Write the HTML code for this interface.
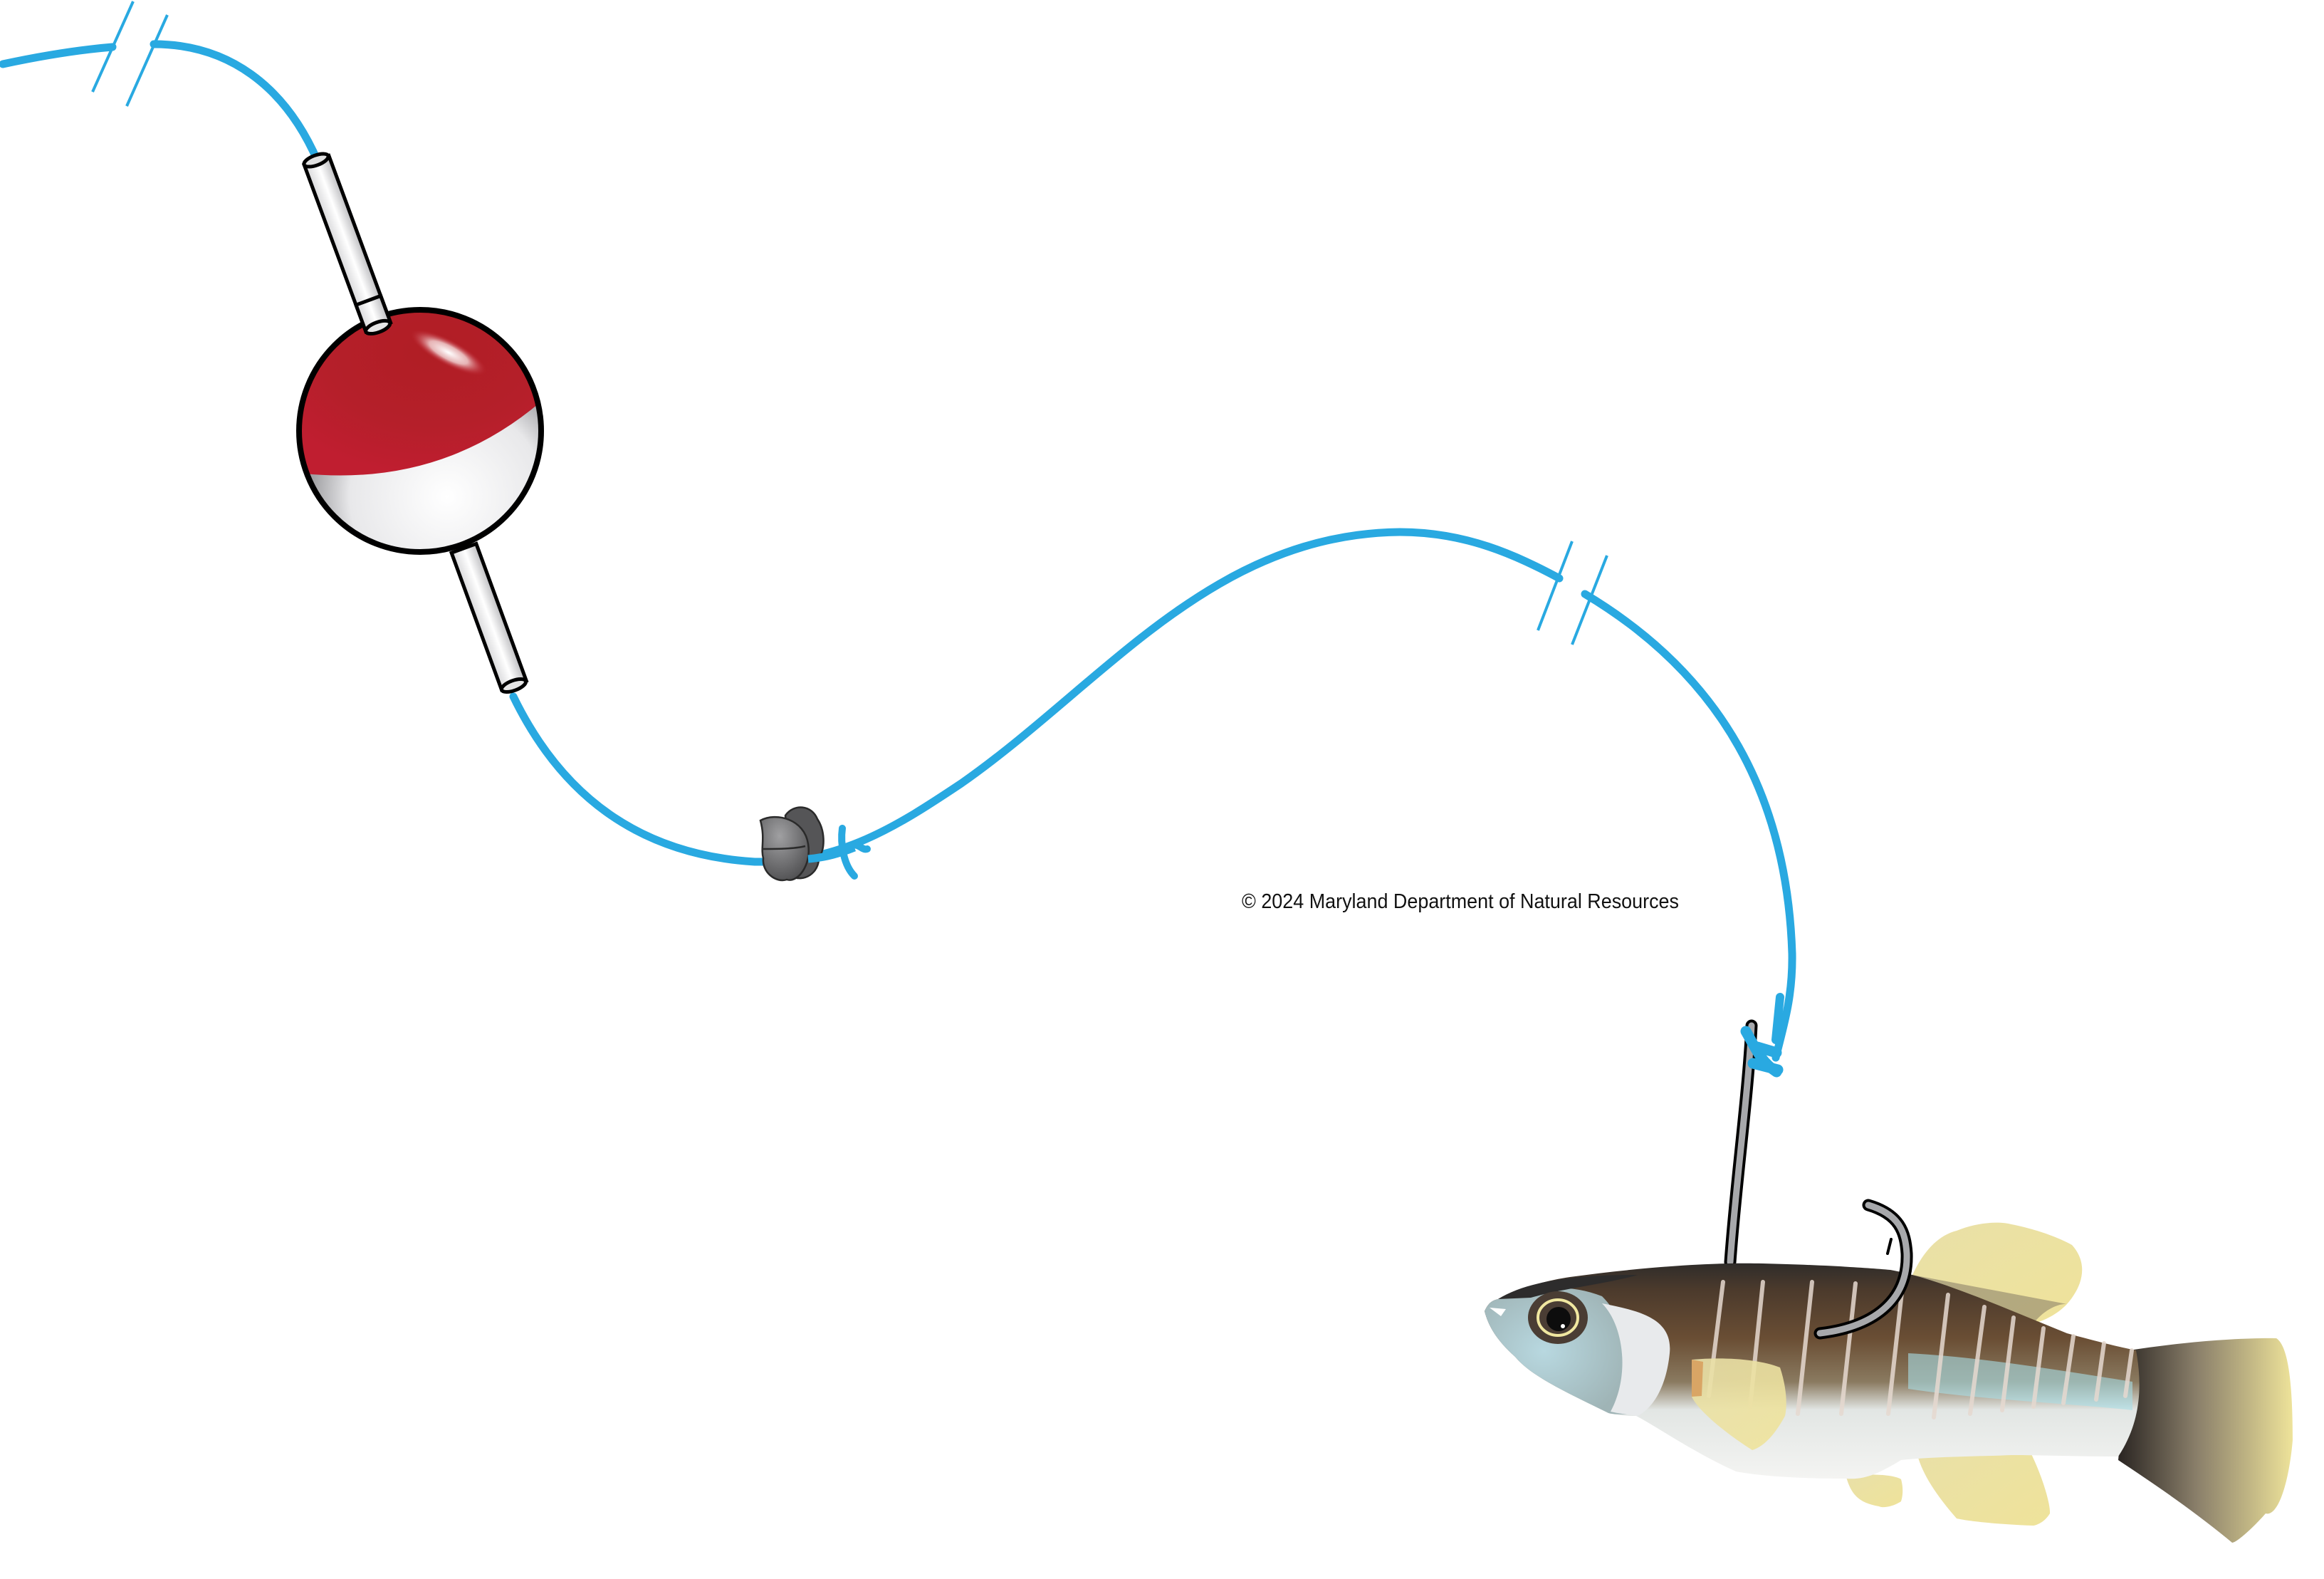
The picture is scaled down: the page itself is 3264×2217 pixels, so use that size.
<!DOCTYPE html>
<html><head><meta charset="utf-8"><style>
html,body{margin:0;padding:0;background:#fff}
svg{display:block}
</style></head><body>
<svg width="3264" height="2217" viewBox="0 0 3264 2217" xmlns="http://www.w3.org/2000/svg">
<defs>
<radialGradient id="red" cx="0.55" cy="0.3" r="0.7">
<stop offset="0" stop-color="#b01e24"/><stop offset="0.6" stop-color="#b51f2a"/><stop offset="1" stop-color="#c01e30"/>
</radialGradient>
<radialGradient id="wht" cx="0.6" cy="0.75" r="0.6">
<stop offset="0" stop-color="#ffffff"/><stop offset="0.6" stop-color="#e8e8ea"/><stop offset="1" stop-color="#6e6e72"/>
</radialGradient>
<linearGradient id="tube" x1="0" y1="0" x2="1" y2="0">
<stop offset="0" stop-color="#d8d8da"/><stop offset="0.5" stop-color="#ffffff"/><stop offset="1" stop-color="#bdbdc0"/>
</linearGradient>
<radialGradient id="hl" cx="0.5" cy="0.5" r="0.5">
<stop offset="0" stop-color="#ffffff"/><stop offset="0.5" stop-color="#f4dada" stop-opacity="0.8"/><stop offset="1" stop-color="#c02030" stop-opacity="0"/>
</radialGradient>
<radialGradient id="sink" cx="0.4" cy="0.3" r="0.8">
<stop offset="0" stop-color="#a0a0a2"/><stop offset="1" stop-color="#4a4a4c"/>
</radialGradient>
<linearGradient id="body" x1="0" y1="0" x2="0" y2="1">
<stop offset="0" stop-color="#2f2c2a"/><stop offset="0.12" stop-color="#4b3a2c"/><stop offset="0.35" stop-color="#6a4e34"/><stop offset="0.55" stop-color="#8a7a60"/><stop offset="0.68" stop-color="#e2e6e4"/><stop offset="1" stop-color="#f4f4f2"/>
</linearGradient>
<linearGradient id="fin" x1="0" y1="0" x2="1" y2="1">
<stop offset="0" stop-color="#e9e0a8"/><stop offset="1" stop-color="#efe39a"/>
</linearGradient>
<linearGradient id="tail" x1="0" y1="0" x2="1" y2="0">
<stop offset="0" stop-color="#2a2522"/><stop offset="0.45" stop-color="#8a7f6a"/><stop offset="1" stop-color="#eee39a"/>
</linearGradient>
<radialGradient id="head" cx="0.4" cy="0.5" r="0.6">
<stop offset="0" stop-color="#b8d8e0"/><stop offset="1" stop-color="#9fb4b6"/>
</radialGradient>
<clipPath id="ball"><circle cx="590" cy="605" r="170"/></clipPath>
</defs>

<g fill="none" stroke="#29a9e1" stroke-width="11" stroke-linecap="round">
<path d="M4,90 C60,78 110,70 158,66"/>
<path d="M216,62 C320,62 400,120 446,226"/>
<path d="M721,978 C790,1120 900,1200 1060,1210 C1180,1212 1260,1160 1350,1100 C1550,960 1700,750 1966,747 C2060,747 2130,780 2190,812"/>
<path d="M2226,834 C2420,950 2510,1120 2517,1339 C2518,1400 2505,1440 2494,1485"/>
</g>
<g stroke="#29a9e1" stroke-width="4">
<line x1="130" y1="129" x2="187" y2="2"/>
<line x1="178" y1="149" x2="235" y2="21"/>
<line x1="2160" y1="885" x2="2208" y2="760"/>
<line x1="2208" y1="905" x2="2257" y2="780"/>
</g>

<g stroke="#000" stroke-width="5">
<g transform="translate(444,225) rotate(-20.3)">
<rect x="-18" y="0" width="37" height="250" fill="url(#tube)"/>
<ellipse cx="0" cy="0" rx="18" ry="7" fill="#e0e0e0"/>
</g>
<g transform="translate(651,770) rotate(-20.1)">
<rect x="-18" y="0" width="37" height="205" fill="url(#tube)"/>
<ellipse cx="0" cy="205" rx="18" ry="7" fill="#e6e6e6"/>
</g>
</g>

<g clip-path="url(#ball)">
<rect x="400" y="420" width="380" height="370" fill="url(#wht)"/>
<path d="M410,663 Q620,690 770,555 L770,420 L410,420 Z" fill="url(#red)"/>
<ellipse cx="630" cy="495" rx="60" ry="18" transform="rotate(28 630 495)" fill="url(#hl)"/>
</g>
<circle cx="590" cy="605" r="170" fill="none" stroke="#000" stroke-width="8"/>
<g transform="translate(444,225) rotate(-20.3)"><rect x="-18" y="210" width="37" height="40" fill="url(#tube)" stroke="#000" stroke-width="5"/><ellipse cx="0" cy="250" rx="18" ry="7" fill="#e6e6e6" stroke="#000" stroke-width="5"/></g>

<g stroke="#2a2a2a" stroke-width="2.5">
<path d="M1103,1145 C1115,1128 1140,1130 1148,1150 C1158,1165 1160,1190 1150,1205 C1150,1225 1130,1240 1110,1230 Z" fill="#555557"/>
<path d="M1068,1152 C1090,1140 1130,1150 1135,1185 C1140,1215 1120,1240 1105,1235 C1090,1240 1070,1225 1072,1205 C1068,1190 1075,1178 1068,1152 Z" fill="url(#sink)"/>
<path d="M1072,1192 C1090,1192 1115,1192 1131,1188" fill="none"/>
</g>
<path d="M1135,1206 C1160,1204 1180,1198 1200,1190" fill="none" stroke="#29a9e1" stroke-width="11"/>
<g fill="none" stroke="#29a9e1" stroke-width="10" stroke-linecap="round">
<path d="M1183,1163 C1180,1185 1185,1215 1200,1230"/>
<path d="M1192,1190 C1205,1180 1210,1195 1218,1192"/>
</g>

<path d="M2430,1772 C2438,1660 2455,1540 2460,1440" fill="none" stroke="#000" stroke-width="17" stroke-linecap="round"/>
<path d="M2430,1772 C2438,1660 2455,1540 2460,1440" fill="none" stroke="#a7a8ab" stroke-width="9" stroke-linecap="round"/>
<g fill="none" stroke="#29a9e1" stroke-linecap="round">
<path d="M2500,1400 L2494,1460" stroke-width="12"/>
<path d="M2452,1448 C2465,1470 2472,1490 2495,1505" stroke-width="15"/>
<path d="M2462,1493 L2497,1502" stroke-width="15"/>
<path d="M2468,1470 L2495,1478" stroke-width="15"/>
</g>

<g>
<path d="M2686,1790 C2700,1760 2720,1735 2748,1728 C2780,1715 2810,1715 2825,1719 C2880,1730 2910,1748 2910,1748 C2930,1770 2930,1800 2903,1831 C2890,1845 2870,1855 2856,1858 Z" fill="url(#fin)"/>
<path d="M2686,1790 C2710,1800 2760,1830 2856,1858 C2870,1840 2890,1830 2903,1831" fill="#7a6f60" opacity="0.5"/>
<path d="M2990,1896 C3060,1885 3140,1878 3197,1879 C3215,1890 3220,1950 3220,2022 C3215,2080 3200,2130 3182,2125 C3160,2150 3140,2166 3135,2166 C3080,2120 3020,2080 2975,2050 Z" fill="url(#tail)"/>
<path d="M2693,2043 C2720,2030 2800,2020 2841,2019 C2865,2060 2880,2110 2879,2125 C2870,2140 2856,2142 2856,2142 C2800,2140 2760,2135 2748,2132 C2720,2100 2700,2070 2693,2043 Z" fill="url(#fin)"/>
<path d="M2593,2074 C2620,2068 2660,2070 2670,2077 C2675,2095 2670,2108 2670,2108 C2660,2115 2645,2118 2639,2115 C2610,2110 2600,2098 2593,2074 Z" fill="url(#fin)"/>
<path d="M2085,1841 C2090,1830 2095,1826 2104,1824 C2130,1810 2170,1798 2205,1793 C2300,1780 2400,1772 2476,1774 C2560,1776 2620,1780 2655,1783 C2720,1795 2800,1830 2903,1872 C2950,1885 2980,1892 3000,1896 C3010,1950 3005,2000 2975,2045 C2920,2045 2860,2043 2825,2043 C2780,2045 2720,2045 2670,2050 C2640,2068 2620,2078 2593,2076 C2520,2076 2470,2072 2438,2066 C2380,2040 2330,2005 2298,1988 C2280,1988 2265,1986 2259,1984 C2200,1955 2150,1932 2128,1905 C2100,1880 2090,1860 2085,1841 Z" fill="url(#body)"/>
<path d="M2680,1900 C2780,1905 2900,1925 2995,1940 L2995,1980 C2900,1970 2780,1965 2680,1950 Z" fill="#a9dde6" opacity="0.6"/>
<path d="M2085,1841 C2090,1830 2095,1826 2104,1824 C2140,1808 2200,1800 2250,1820 C2290,1860 2300,1930 2290,1986 C2270,1986 2262,1985 2259,1984 C2200,1955 2150,1932 2128,1905 C2100,1880 2090,1860 2085,1841 Z" fill="url(#head)"/>
<path d="M2250,1830 C2300,1840 2350,1850 2345,1900 C2340,1950 2320,1978 2300,1988 C2285,1986 2270,1984 2262,1982 C2290,1930 2280,1860 2250,1830 Z" fill="#e8eaec"/>
<path d="M2104,1824 C2150,1795 2230,1790 2300,1790 C2260,1802 2200,1808 2150,1822 Z" fill="#2d2c2c"/>
<path d="M2092,1836 L2115,1838 L2108,1848 Z" fill="#ffffff"/>
<g stroke="#e6d9d0" stroke-width="6" stroke-linecap="round" opacity="0.85">
<line x1="2420" y1="1800" x2="2400" y2="1960"/>
<line x1="2476" y1="1800" x2="2458" y2="1975"/>
<line x1="2545" y1="1800" x2="2525" y2="1985"/>
<line x1="2606" y1="1802" x2="2586" y2="1985"/>
<line x1="2672" y1="1806" x2="2652" y2="1985"/>
<line x1="2736" y1="1818" x2="2716" y2="1990"/>
<line x1="2787" y1="1835" x2="2767" y2="1985"/>
<line x1="2828" y1="1850" x2="2812" y2="1980"/>
<line x1="2870" y1="1865" x2="2856" y2="1975"/>
<line x1="2912" y1="1876" x2="2898" y2="1970"/>
<line x1="2955" y1="1886" x2="2944" y2="1965"/>
<line x1="2994" y1="1896" x2="2985" y2="1960"/>
</g>
<path d="M2376,1909 C2420,1905 2470,1908 2500,1920 C2510,1950 2510,1975 2507,1988 C2495,2010 2480,2030 2461,2036 C2420,2010 2385,1980 2376,1961 Z" fill="url(#fin)" opacity="0.9"/>
<path d="M2376,1909 L2392,1912 L2390,1960 L2376,1961 Z" fill="#d9a565"/>
<ellipse cx="2188" cy="1850" rx="42" ry="37" fill="#4a3d34"/>
<ellipse cx="2188" cy="1850" rx="28" ry="25" fill="none" stroke="#f0e7a0" stroke-width="4"/>
<circle cx="2189" cy="1852" r="17" fill="#0d0d0d"/>
<circle cx="2195" cy="1862" r="3" fill="#fff"/>
</g>

<g fill="none" stroke-linecap="round">
<path d="M2556,1872 C2640,1862 2680,1820 2678,1760 C2676,1730 2668,1705 2624,1692" stroke="#000" stroke-width="17"/>
<path d="M2556,1872 C2640,1862 2680,1820 2678,1760 C2676,1730 2668,1705 2624,1692" stroke="#a7a8ab" stroke-width="9"/>
<path d="M2656,1740 L2651,1760" stroke="#000" stroke-width="4"/>
</g>

<text x="1744" y="1275" font-family="'Liberation Sans', sans-serif" font-size="29" fill="#111" textLength="614" lengthAdjust="spacingAndGlyphs">© 2024 Maryland Department of Natural Resources</text>
</svg>
</body></html>
